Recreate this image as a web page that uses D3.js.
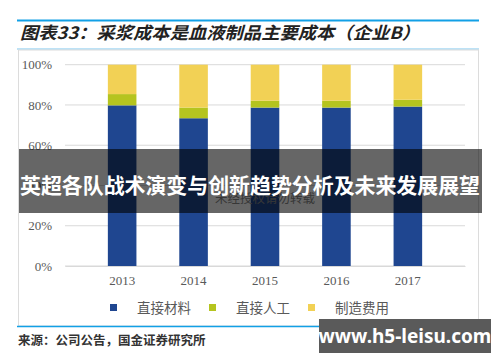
<!DOCTYPE html>
<html>
<head>
  <meta charset="utf-8">
  <title>采浆成本是血液制品主要成本</title>
  <script src="https://d3js.org/d3.v7.min.js"></script>
  <style>
    body { margin: 0; background: #fff; }
    svg { display: block; }
  </style>
</head>
<body>
  <div id="chart"></div>
  <script>
    // data (share of cost, %)
    const years = ["2013", "2014", "2015", "2016", "2017"];
    const material = [79.8, 73.4, 78.7, 78.7, 79.2];
    const labor = [5.6, 5.3, 3.4, 3.4, 3.4];
    const overhead = [14.6, 21.3, 17.9, 17.9, 17.4];
    const seriesNames = ["直接材料", "直接人工", "制造费用"];
    const colors = ["#1f4690", "#b5c41f", "#f2d155"];
    const yTicks = [0, 20, 40, 60, 80, 100];

    const width = 500, height = 362;
    const margin = { top: 64.7, right: 35, bottom: 96, left: 65 };

    const svg = d3.select("#chart").append("svg")
      .attr("width", width)
      .attr("height", height);

    // header lines + title
    svg.append("line").attr("x1", 17).attr("x2", 479).attr("y1", 20.5).attr("y2", 20.5)
      .attr("stroke", "#12a0e6").attr("stroke-width", 2);
    svg.append("text")
      .attr("x", 20).attr("y", 39)
      .attr("font-family", "Noto Sans CJK SC")
      .attr("font-size", 17).attr("font-weight", "bold").attr("font-style", "italic")
      .attr("fill", "#222")
      .attr("textLength", 400).attr("lengthAdjust", "spacingAndGlyphs")
      .text("图表33：采浆成本是血液制品主要成本（企业B）");
    svg.append("line").attr("x1", 17).attr("x2", 479).attr("y1", 49).attr("y2", 49)
      .attr("stroke", "#7cc6ee").attr("stroke-width", 1.2);

    // frame
    svg.append("rect").attr("x", 18.5).attr("y", 50).attr("width", 460).attr("height", 276)
      .attr("fill", "none").attr("stroke", "#dcdcdc");

    // bottom line + source
    svg.append("line").attr("x1", 17).attr("x2", 479).attr("y1", 326.5).attr("y2", 326.5)
      .attr("stroke", "#12a0e6").attr("stroke-width", 1.5);
    svg.append("text")
      .attr("x", 18).attr("y", 345)
      .attr("font-family", "Noto Sans CJK SC")
      .attr("font-size", 12.5).attr("font-weight", "bold")
      .attr("fill", "#333")
      .text("来源：公司公告，国金证券研究所");

    // scales
    const x = d3.scaleBand()
      .domain(years)
      .range([margin.left, width - margin.right])
      .padding(0.6);
    const y = d3.scaleLinear()
      .domain([0, 100])
      .range([266, margin.top]);

    // gridlines
    svg.append("g")
      .selectAll("line")
      .data(yTicks)
      .join("line")
      .attr("x1", margin.left).attr("x2", width - margin.right)
      .attr("y1", d => y(d)).attr("y2", d => y(d))
      .attr("stroke", "#d9d9d9").attr("stroke-width", 1);

    // y axis labels
    const yAxis = svg.append("g")
      .attr("transform", `translate(${margin.left - 10},0)`)
      .call(d3.axisLeft(y).tickValues(yTicks).tickSize(0).tickFormat(d => d + "%"));
    yAxis.select(".domain").remove();
    yAxis.selectAll("text")
      .attr("font-family", "Liberation Serif").attr("font-size", 13).attr("fill", "#595959");

    // x axis labels
    const xAxis = svg.append("g")
      .attr("transform", `translate(0,${y(0)})`)
      .call(d3.axisBottom(x).tickSize(0).tickPadding(10));
    xAxis.select(".domain").attr("stroke", "#d9d9d9");
    xAxis.selectAll("text")
      .attr("font-family", "Liberation Serif").attr("font-size", 13).attr("fill", "#595959");

    // stacked bars
    const rows = years.map((yr, i) => ({ year: yr, 0: material[i], 1: labor[i], 2: overhead[i] }));
    const stacked = d3.stack().keys([0, 1, 2])(rows);
    svg.append("g")
      .selectAll("g")
      .data(stacked)
      .join("g")
      .attr("fill", (d, i) => colors[i])
      .selectAll("rect")
      .data(d => d)
      .join("rect")
      .attr("x", d => x(d.data.year))
      .attr("y", d => y(d[1]))
      .attr("width", x.bandwidth())
      .attr("height", d => y(d[0]) - y(d[1]));

    // legend
    const legendX = [110, 209, 308];
    const legend = svg.append("g");
    seriesNames.forEach((name, i) => {
      legend.append("rect")
        .attr("x", legendX[i]).attr("y", 304)
        .attr("width", 7).attr("height", 7)
        .attr("fill", colors[i]);
      legend.append("text")
        .attr("x", legendX[i] + 27).attr("y", 312.5)
        .attr("font-family", "Noto Sans CJK SC").attr("font-size", 13.5)
        .attr("fill", "#595959")
        .text(name);
    });

    // faint watermark under the banner
    svg.append("text")
      .attr("x", 265).attr("y", 203)
      .attr("text-anchor", "middle")
      .attr("font-family", "Noto Sans CJK SC").attr("font-size", 12.5)
      .attr("fill", "#8a8a8a")
      .text("未经授权请勿转载");

    // dark banner with headline
    svg.append("rect")
      .attr("x", 19).attr("y", 149).attr("width", 463).attr("height", 64)
      .attr("fill", "#000").attr("fill-opacity", 0.6);
    svg.append("text")
      .attr("x", 250).attr("y", 193)
      .attr("text-anchor", "middle")
      .attr("font-family", "Noto Sans CJK SC").attr("font-weight", "bold").attr("font-size", 21)
      .attr("fill", "#fff")
      .attr("textLength", 460).attr("lengthAdjust", "spacingAndGlyphs")
      .text("英超各队战术演变与创新趋势分析及未来发展展望");

    // site tag bottom right
    svg.append("rect")
      .attr("x", 319).attr("y", 319).attr("width", 172).attr("height", 34)
      .attr("fill", "#5a5a5a");
    svg.append("text")
      .attr("x", 405).attr("y", 343)
      .attr("text-anchor", "middle")
      .attr("font-family", "Noto Sans").attr("font-weight", "bold").attr("font-size", 19)
      .attr("fill", "#fff")
      .text("www.h5-leisu.com");
  </script>
</body>
</html>
